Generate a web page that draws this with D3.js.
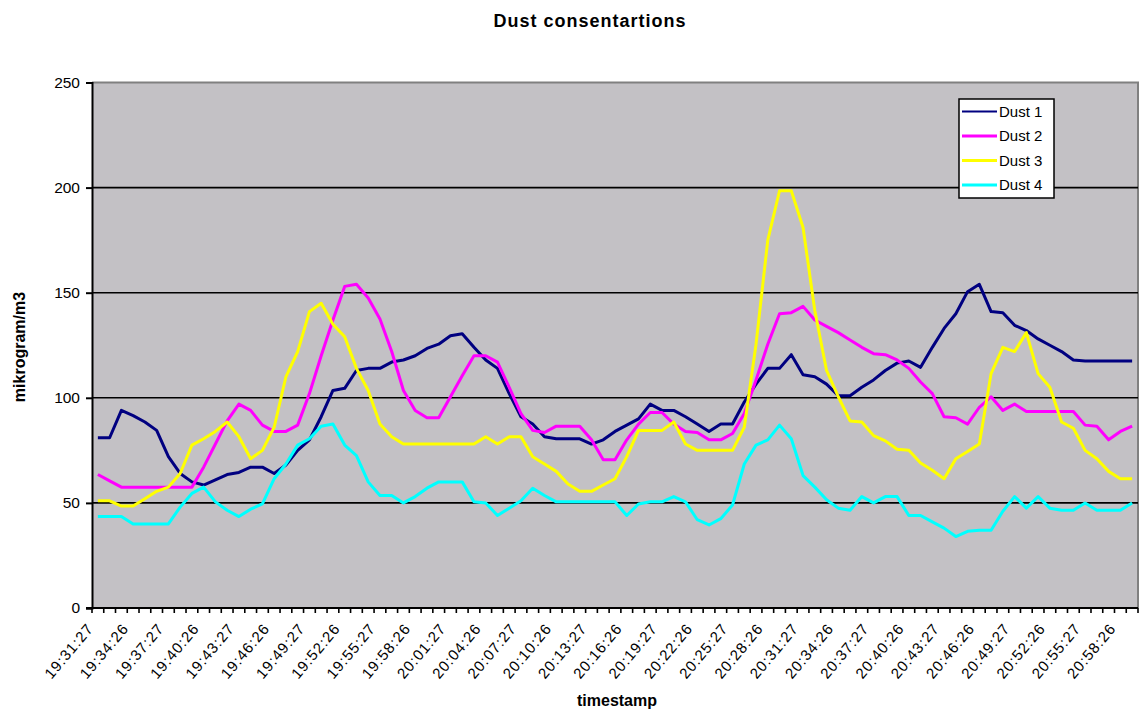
<!DOCTYPE html>
<html>
<head>
<meta charset="utf-8">
<script src="https://cdn.jsdelivr.net/npm/d3@7"></script>
<style>
  html, body { margin: 0; padding: 0; background: #ffffff; }
  svg { display: block; font-family: "Liberation Sans", Arial, sans-serif; }
</style>
</head>
<body>
<svg id="chart" width="1141" height="713"></svg>
<script>
// Sampling timestamps (one reading per minute)
const timestamps = [
  "19:31:27","19:32:27","19:33:27","19:34:26","19:35:26","19:36:26",
  "19:37:27","19:38:27","19:39:27","19:40:26","19:41:26","19:42:26",
  "19:43:27","19:44:27","19:45:27","19:46:26","19:47:26","19:48:26",
  "19:49:27","19:50:27","19:51:27","19:52:26","19:53:26","19:54:26",
  "19:55:27","19:56:27","19:57:27","19:58:26","19:59:26","20:00:26",
  "20:01:27","20:02:27","20:03:27","20:04:26","20:05:26","20:06:26",
  "20:07:27","20:08:27","20:09:27","20:10:26","20:11:26","20:12:26",
  "20:13:27","20:14:27","20:15:27","20:16:26","20:17:26","20:18:26",
  "20:19:27","20:20:27","20:21:27","20:22:26","20:23:26","20:24:26",
  "20:25:27","20:26:27","20:27:27","20:28:26","20:29:26","20:30:26",
  "20:31:27","20:32:27","20:33:27","20:34:26","20:35:26","20:36:26",
  "20:37:27","20:38:27","20:39:27","20:40:26","20:41:26","20:42:26",
  "20:43:27","20:44:27","20:45:27","20:46:26","20:47:26","20:48:26",
  "20:49:27","20:50:27","20:51:27","20:52:26","20:53:26","20:54:26",
  "20:55:27","20:56:27","20:57:27","20:58:26","20:59:26"
];

// Concentrations, microgram/m3
const dust1 = [
  81, 81, 94, 91.5, 88.5, 84.5, 72, 64, 60, 58.5,
  61, 63.5, 64.5, 67, 67, 64, 68, 75, 80, 91,
  103.5, 104.5, 113, 114, 114, 117, 118, 120, 123.5, 125.5,
  129.5, 130.5, 124, 118, 114, 102, 91, 87.5, 81.5, 80.5,
  80.5, 80.5, 78, 80, 84, 87, 90, 97, 94, 94,
  91, 87.5, 84, 87.5, 87.5, 98, 106.5, 114, 114, 120.5,
  111, 110, 106.5, 101, 101, 105, 108.5, 113, 116.5, 117.5,
  114.5, 124, 133, 140, 150.5, 154, 141, 140.5, 134.5, 132,
  128, 125, 122, 118, 117.5, 117.5, 117.5, 117.5, 117.5
];
const dust2 = [
  63.5, 60.5, 57.5, 57.5, 57.5, 57.5, 57.5, 57.5, 57.5, 67,
  78, 89, 97, 94, 87, 84, 84, 87, 102, 120,
  137, 153, 154, 147.5, 137.5, 122, 103.5, 94, 90.5, 90.5,
  100.5, 110.5, 120, 120, 117, 105, 92.5, 84.5, 83.5, 86.5,
  86.5, 86.5, 80, 70.5, 70.5, 80, 87.5, 93, 93, 87.5,
  84, 83.5, 80, 80, 83, 92.5, 108.5, 125.5, 140, 140.5,
  143.5, 137, 134, 131, 127.5, 124, 121, 120.5, 118, 114,
  107.5, 102, 91, 90.5, 87.5, 95.5, 100.5, 94, 97, 93.5,
  93.5, 93.5, 93.5, 93.5, 87, 86.5, 80, 84, 86.5
];
const dust3 = [
  51, 51, 48.5, 48.5, 52, 55.5, 57.5, 64, 77.5, 80.5,
  84, 88.5, 81.5, 71, 75, 86, 110, 122, 141, 145,
  135, 129, 114, 103.5, 87.5, 81.5, 78, 78, 78, 78,
  78, 78, 78, 81.5, 78, 81.5, 81.5, 72, 68.5, 65,
  59, 55.5, 55.5, 58.5, 61.5, 72, 84.5, 84.5, 84.5, 88.5,
  78, 75, 75, 75, 75, 86, 125.5, 175, 198.5, 198.5,
  181, 141.5, 113, 100.5, 89, 88.5, 82, 79.5, 75.5, 75,
  69, 65.5, 61.5, 71, 74.5, 78, 111.5, 124, 122, 131,
  111.5, 105, 88.5, 85.5, 75, 71, 65, 61.5, 61.5
];
const dust4 = [
  43.5, 43.5, 43.5, 40, 40, 40, 40, 48, 54.5, 57.5,
  50.5, 46.5, 43.5, 47, 49.5, 61.5, 68.5, 77.5, 80.5, 86.5,
  87.5, 77.5, 72.5, 60, 53.5, 53.5, 50, 53, 57, 60,
  60, 60, 50.5, 50, 44, 47.5, 51, 57, 53.5, 50.5,
  50.5, 50.5, 50.5, 50.5, 50.5, 44, 49.5, 50.5, 50.5, 53,
  50.5, 42, 39.5, 42.5, 49, 68.5, 77.5, 80, 87, 80.5,
  63, 57.5, 51.5, 47.5, 46.5, 53, 50, 53, 53, 44,
  44, 41, 38, 34, 36.5, 37, 37, 46, 53, 47.5,
  53, 47.5, 46.5, 46.5, 50, 46.5, 46.5, 46.5, 50
];

const seriesNames = ["Dust 1", "Dust 2", "Dust 3", "Dust 4"];
const seriesColors = ["#000080", "#ff00ff", "#ffff00", "#00ffff"];
const yTicks = [0, 50, 100, 150, 200, 250];

const series = [dust1, dust2, dust3, dust4].map((values, k) => ({
  name: seriesNames[k], color: seriesColors[k], values
}));

const svg = d3.select("#chart");
const plot = { left: 92, right: 1138, top: 82.5, bottom: 608 };

const x = d3.scaleBand().domain(timestamps).range([plot.left, plot.right]).padding(0);
const y = d3.scaleLinear().domain([0, 250]).range([plot.bottom, plot.top]);
const cx = t => x(t) + x.bandwidth() / 2;

// Title
svg.append("text")
  .attr("x", 590).attr("y", 27)
  .attr("text-anchor", "middle")
  .style("font-weight", "bold").style("font-size", "18px")
  .style("letter-spacing", "1px")
  .text("Dust consentartions");

// Plot area background
svg.append("rect")
  .attr("x", plot.left).attr("y", plot.top)
  .attr("width", plot.right - plot.left).attr("height", plot.bottom - plot.top)
  .attr("fill", "#c3c1c5");

// Top and right frame
svg.append("path")
  .attr("d", `M${plot.left},${plot.top}H${plot.right}V${plot.bottom}`)
  .attr("fill", "none").attr("stroke", "#808080").attr("stroke-width", 2);

// Horizontal gridlines
svg.append("g").selectAll("line")
  .data(yTicks.filter(v => v > 0 && v < 250))
  .join("line")
  .attr("x1", plot.left).attr("x2", plot.right)
  .attr("y1", d => y(d)).attr("y2", d => y(d))
  .attr("stroke", "#000").attr("stroke-width", 1.6);

// Y axis
const yAxis = svg.append("g")
  .attr("transform", `translate(${plot.left},0)`)
  .call(d3.axisLeft(y).tickValues(yTicks).tickSize(6).tickPadding(6).tickFormat(d3.format("d")));
yAxis.select(".domain").attr("stroke", "#000").attr("stroke-width", 2);
yAxis.selectAll(".tick line").attr("stroke", "#000").attr("stroke-width", 2);
yAxis.selectAll(".tick text")
  .style("font-size", "15.5px").style("font-family", "Liberation Sans, Arial, sans-serif")
  .attr("fill", "#000");

// X axis: tick marks on category boundaries
const boundaries = timestamps.map(t => x(t)).concat([plot.right]);
svg.append("g").selectAll("line")
  .data(boundaries)
  .join("line")
  .attr("x1", d => d).attr("x2", d => d)
  .attr("y1", plot.bottom).attr("y2", plot.bottom + 5)
  .attr("stroke", "#000").attr("stroke-width", 1.6);

svg.append("line")
  .attr("x1", plot.left - 6).attr("x2", plot.right)
  .attr("y1", plot.bottom).attr("y2", plot.bottom)
  .attr("stroke", "#000").attr("stroke-width", 2);

// X tick labels: every third timestamp, slanted
const labelled = timestamps.filter((t, i) => i % 3 === 0);
svg.append("g").selectAll("text")
  .data(labelled)
  .join("text")
  .attr("transform", d => `translate(${cx(d) - 12},${plot.bottom + 14}) rotate(-50)`)
  .attr("text-anchor", "end")
  .attr("dy", "0.72em")
  .style("font-size", "15px")
  .style("letter-spacing", "1px")
  .text(d => d);

// Axis titles
svg.append("text")
  .attr("x", 617).attr("y", 706)
  .attr("text-anchor", "middle")
  .style("font-weight", "bold").style("font-size", "16px")
  .text("timestamp");

svg.append("text")
  .attr("transform", `translate(25,347) rotate(-90)`)
  .attr("text-anchor", "middle")
  .style("font-weight", "bold").style("font-size", "16px")
  .text("mikrogram/m3");

// Series lines
const line = d3.line()
  .x((d, i) => cx(timestamps[i]))
  .y(d => y(d));

svg.append("g").selectAll("path")
  .data(series)
  .join("path")
  .attr("d", d => line(d.values))
  .attr("fill", "none")
  .attr("stroke", d => d.color)
  .attr("stroke-width", 3)
  .attr("stroke-linejoin", "round");

// Legend
const legend = svg.append("g").attr("transform", "translate(959,99)");
legend.append("rect")
  .attr("width", 95).attr("height", 99)
  .attr("fill", "#fff").attr("stroke", "#000").attr("stroke-width", 1.5);
const entry = legend.selectAll("g.entry")
  .data(series)
  .join("g")
  .attr("class", "entry")
  .attr("transform", (d, i) => `translate(0,${12.5 + i * 24.5})`);
entry.append("line")
  .attr("x1", 3).attr("x2", 38)
  .attr("stroke", d => d.color).attr("stroke-width", d => d.name === "Dust 1" ? 2 : 3);
entry.append("text")
  .attr("x", 40).attr("dy", "0.36em")
  .style("font-size", "15px")
  .text(d => d.name);
</script>
</body>
</html>
